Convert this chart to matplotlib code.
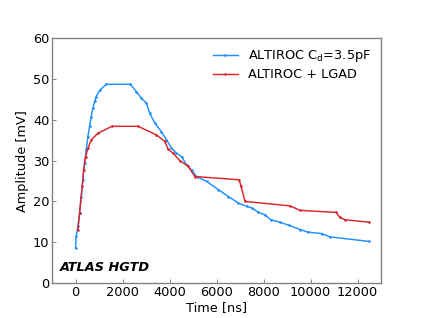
import matplotlib
matplotlib.use("Agg")
import matplotlib.pyplot as plt

# Blue: ALTIROC Cd=3.5pF
t_blue = [0, 28, 100, 171, 242, 313, 384, 455, 526, 597, 668, 739, 810, 882, 1024, 1308,
          2332, 2588, 2801, 3015, 3157, 3370, 3655, 3868, 4081, 4295, 4508, 4721, 4935, 5148,
          5575, 6073, 6500, 6927, 7281, 7500, 7780, 8063, 8305, 8703, 9100, 9556, 9869,
          10480, 10836, 12471]
a_blue = [8.6, 11.4, 13.9, 17.1, 21.2, 25.3, 29.4, 32.6, 35.9, 38.4, 40.8, 42.9, 44.5, 45.7, 47.2, 48.7,
          48.7, 46.9, 45.3, 44.1, 41.6, 39.2, 37.1, 35.1, 33.1, 31.8, 31.0, 29.0, 27.7, 26.1,
          24.9, 22.9, 21.2, 19.6, 18.8, 18.4, 17.3, 16.7, 15.5, 14.9, 14.1, 13.1, 12.5,
          12.1, 11.3, 10.2]

# Red: ALTIROC + LGAD
t_red = [100, 171, 284, 341, 427, 526, 668, 953, 1550, 2660, 3442, 3797, 3939, 4152, 4437,
         4791, 5077, 6954, 7040, 7210, 9130, 9556, 11092, 11234, 11476, 12500]
a_red = [13.0, 17.1, 23.7, 27.7, 31.0, 33.0, 35.1, 36.7, 38.4, 38.4, 36.3, 34.7, 32.8, 31.8, 30.0,
         28.6, 26.1, 25.3, 23.7, 20.0, 18.9, 17.8, 17.3, 16.1, 15.5, 14.9]

labels = [r'ALTIROC C$_\mathregular{d}$=3.5pF', 'ALTIROC + LGAD']
colors = ['#1e90ff', '#d9262b']

plt.rcParams['font.family'] = ['DejaVu Sans']
plt.rcParams['font.size'] = 14

fig = plt.figure(figsize=(423/66, 318/66), dpi=66)
ax = fig.add_axes([0.123, 0.110, 0.778, 0.770])

ax.plot(t_blue, a_blue, color=colors[0], lw=1.6, marker='.', ms=3.5, label=labels[0])
ax.plot(t_red, a_red, color=colors[1], lw=1.6, marker='.', ms=3.5, label=labels[1])

ax.set_xlim(-1000, 13000)
ax.set_ylim(0, 60)
ax.set_xticks([0, 2000, 4000, 6000, 8000, 10000, 12000])
ax.set_yticks([0, 10, 20, 30, 40, 50, 60])
ax.set_xlabel('Time [ns]', fontsize=14, labelpad=2)
ax.set_ylabel('Amplitude [mV]', fontsize=14, labelpad=4)

for s in ax.spines.values():
    s.set_color('#808080')
    s.set_linewidth(1.5)
ax.tick_params(direction='in', length=4, width=1, color='#808080', labelsize=14, pad=3)

ax.legend(loc='upper right', frameon=False, fontsize=14, handlelength=1.9,
          borderaxespad=0.4, labelspacing=0.3)

ax.text(0.025, 0.035, 'ATLAS HGTD', transform=ax.transAxes, fontsize=14,
        fontweight='bold', fontstyle='italic', ha='left', va='bottom')

fig.savefig('out.png', dpi=66)
